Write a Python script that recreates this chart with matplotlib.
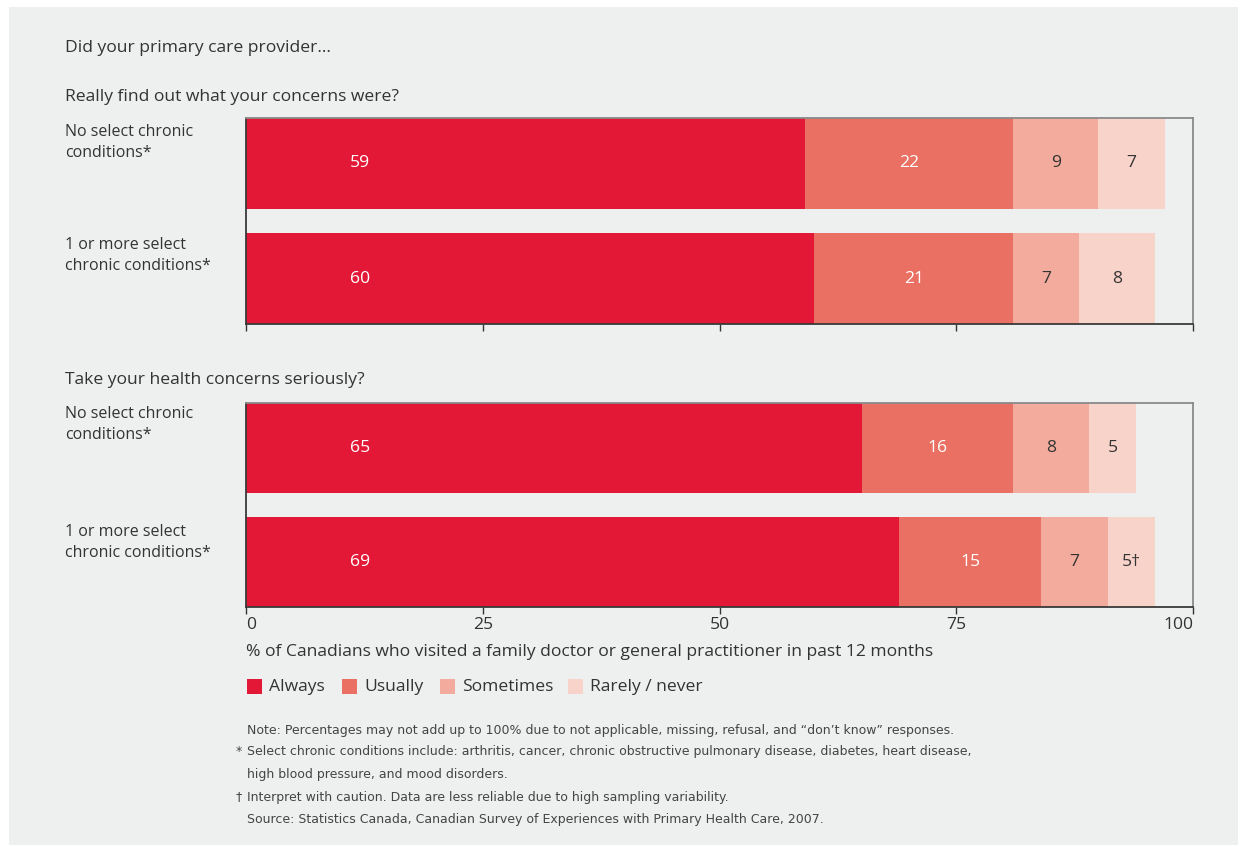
import matplotlib.pyplot as plt
from matplotlib.patches import Rectangle
import numpy as np

# данные опроса (%)
groups = ["No select chronic\nconditions*", "1 or more select\nchronic conditions*"]
answers = ["Always", "Usually", "Sometimes", "Rarely / never"]
colors = ["#e31837", "#ea7063", "#f2ab9c", "#f8d3c9"]
text_colors = ["white", "white", "#333333", "#333333"]

concerns_found = [[59, 22, 9, 7],
                  [60, 21, 7, 8]]
concerns_serious = [[65, 16, 8, 5],
                    [69, 15, 7, 5]]
concerns_serious_labels = [["65", "16", "8", "5"],
                           ["69", "15", "7", "5\u2020"]]
concerns_found_labels = [["59", "22", "9", "7"],
                         ["60", "21", "7", "8"]]

xticks = [0, 25, 50, 75, 100]

font = "Open Sans"
narrow = ["Liberation Sans Narrow", "DejaVu Sans"]
dark = "#333333"
bg = "#eef0ef"
fs = 12.6

W, H = 1240, 846
fig = plt.figure(figsize=(W / 100, H / 100), dpi=100, facecolor="white")
fig.patches.append(Rectangle((9 / W, 1 - 845 / H), 1229 / W, 838 / H,
                             transform=fig.transFigure, facecolor=bg,
                             edgecolor="none", zorder=-10))


def fx(px):
    return px / W


def fy(py):
    return 1 - py / H


def draw_panel(top, bottom, values, labels, show_ticklabels):
    ax = fig.add_axes([fx(246), fy(bottom), fx(1193) - fx(246), fy(top) - fy(bottom)])
    ax.set_facecolor(bg)
    h = 0.79
    for row, (vals, labs) in enumerate(zip(values, labels)):
        left = 0
        for k, v in enumerate(vals):
            ax.barh(row, v, left=left, height=h, color=colors[k], edgecolor="none")
            if k == 0:
                tx = 12
            else:
                tx = left + v / 2
            ax.text(tx, row, labs[k], ha="center", va="center",
                    color=text_colors[k], fontsize=fs, family=font)
            left += v
    ax.set_xlim(0, 100)
    ax.set_ylim(1 + h / 2, -h / 2)
    ax.set_yticks([])
    ax.set_xticks(xticks)
    ax.tick_params(axis="x", direction="out", length=5, width=1, color="#333333")
    for s in ["top", "right"]:
        ax.spines[s].set_color("#8a8a8a")
        ax.spines[s].set_linewidth(1.3)
    for s in ["left", "bottom"]:
        ax.spines[s].set_color("#3a3a3a")
        ax.spines[s].set_linewidth(1.3)
    if show_ticklabels:
        ax.set_xticklabels([str(t) for t in xticks], fontsize=fs, family=font, color=dark)
        for lbl, ha in zip(ax.get_xticklabels(), ["left", "center", "center", "center", "right"]):
            lbl.set_horizontalalignment(ha)
        ax.tick_params(axis="x", pad=2)
    else:
        ax.set_xticklabels([])
    return ax


draw_panel(118, 324, concerns_found, concerns_found_labels, False)
draw_panel(403, 607, concerns_serious, concerns_serious_labels, True)

txt = dict(family=font, color=dark, fontsize=fs, ha="left", va="center")
fig.text(fx(65), fy(48), "Did your primary care provider\u2026", **txt)
fig.text(fx(65), fy(97), "Really find out what your concerns were?", **txt)
fig.text(fx(65), fy(380), "Take your health concerns seriously?", **txt)

for y0, idx in zip([131, 244, 413, 531], [0, 1, 0, 1]):
    fig.text(fx(65), fy(y0 - 7), groups[idx], family=font, color=dark,
             fontsize=11.5, ha="left", va="top", linespacing=1.4)

fig.text(fx(246), fy(652), "% of Canadians who visited a family doctor or general practitioner in past 12 months", **txt)

# легенда
leg_x = [247, 342, 440, 568]
for x0, name, c in zip(leg_x, answers, colors):
    fig.patches.append(Rectangle((fx(x0), fy(694)), 15 / W, 15 / H,
                                 transform=fig.transFigure, facecolor=c, edgecolor="none"))
    fig.text(fx(x0 + 22), fy(687), name, **txt)

note = dict(family=narrow, color="#444444", fontsize=9, ha="left", va="center")
fig.text(fx(247), fy(730), "Note: Percentages may not add up to 100% due to not applicable, missing, refusal, and \u201cdon\u2019t know\u201d responses.", **note)
fig.text(fx(236), fy(752), "*", **note)
fig.text(fx(247), fy(752), "Select chronic conditions include: arthritis, cancer, chronic obstructive pulmonary disease, diabetes, heart disease,", **note)
fig.text(fx(247), fy(774), "high blood pressure, and mood disorders.", **note)
fig.text(fx(236), fy(797), "\u2020", **note)
fig.text(fx(247), fy(797), "Interpret with caution. Data are less reliable due to high sampling variability.", **note)
fig.text(fx(247), fy(819), "Source: Statistics Canada, Canadian Survey of Experiences with Primary Health Care, 2007.", **note)

fig.savefig("out.png", dpi=100, facecolor="white")
